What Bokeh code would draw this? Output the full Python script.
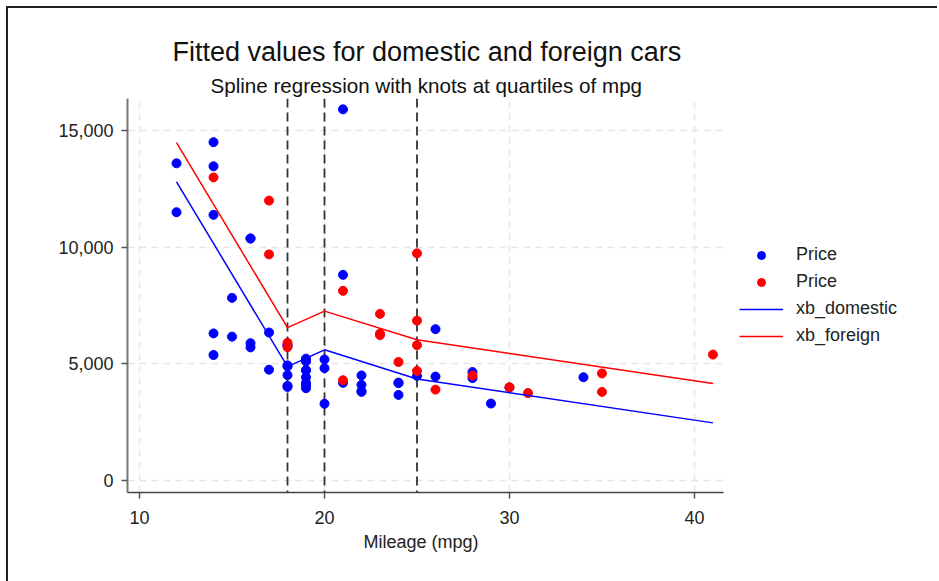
from bokeh.plotting import figure
from bokeh.models import (Span, Title, Legend, LegendItem, NumeralTickFormatter,
                          FixedTicker, Range1d, ColumnDataSource, BoxAnnotation)
from bokeh.embed import file_html
from bokeh.resources import INLINE

# ---- data (auto dataset) ----
mpg_domestic = [22, 17, 22, 20, 15, 18, 26, 20, 16, 19, 14, 14, 21, 29, 16, 22, 19, 24, 19, 30,
                18, 16, 17, 28, 21, 12, 12, 14, 22, 14, 15, 18, 14, 20, 21, 19, 19, 18, 19, 24,
                16, 28, 34, 25, 26, 18, 18, 18, 19, 19, 19, 24]
price_domestic = [4099, 4749, 3799, 4816, 7827, 5788, 4453, 5189, 10372, 4082, 11385, 14500, 15906,
                  3299, 5705, 4504, 5104, 3667, 3955, 3984, 4010, 5886, 6342, 4389, 4187, 11497,
                  13594, 13466, 3829, 5379, 6165, 4516, 6303, 3291, 8814, 5172, 4733, 4890, 4181,
                  4195, 10371, 4647, 4425, 4482, 6486, 4060, 5798, 4934, 5222, 4723, 4424, 4172]
mpg_foreign = [17, 23, 25, 23, 35, 24, 21, 21, 25, 28, 30, 14, 26, 35, 18, 31, 18, 23, 41, 25, 25, 17]
price_foreign = [9690, 6295, 9735, 6229, 4589, 5079, 8129, 4296, 5799, 4499, 3995, 12990, 3895,
                 3798, 5899, 3748, 5719, 7140, 5397, 4697, 6850, 11995]

fit_mpg = [12, 18, 20, 25, 41]
xb_domestic = [12800, 4880, 5600, 4350, 2470]
xb_foreign = [14480, 6550, 7260, 6030, 4160]

knots = [18, 20, 25]
x_ticks = [10, 20, 30, 40]
y_ticks = [0, 5000, 10000, 15000]
legend_labels = ["Price", "Price", "xb_domestic", "xb_foreign"]

FONT = "Liberation Sans"
X_START, X_AXIS_END, X_FRAME_END = 9.35, 41.57, 51.95

p = figure(frame_width=788, frame_height=394,
           x_range=Range1d(X_START, X_FRAME_END), y_range=Range1d(-514, 16371),
           output_backend="svg", toolbar_location=None, title=None,
           min_border_left=119, min_border_top=90, min_border_right=22,
           min_border_bottom=89)
p.styles = {"border-top": "2px solid #222", "border-left": "2px solid #222",
            "margin-top": "6px", "margin-left": "6px"}
p.outline_line_color = None
p.background_fill_color = "white"
p.border_fill_color = "white"

# titles (left-aligned with offsets so they centre over the plotted region)
sub = Title(text="Spline regression with knots at quartiles of mpg", align="left", offset=83,
            text_font=FONT, text_font_size="20.6px", text_font_style="normal",
            text_color="#111111", standoff=4)
main = Title(text="Fitted values for domestic and foreign cars", align="left", offset=45,
             text_font=FONT, text_font_size="27px", text_font_style="normal",
             text_color="#111111", standoff=6)
p.add_layout(sub, "above")
p.add_layout(main, "above")

# axes
p.xaxis.ticker = FixedTicker(ticks=x_ticks)
p.yaxis.ticker = FixedTicker(ticks=y_ticks)
p.xaxis.bounds = (X_START, X_AXIS_END)
p.yaxis.formatter = NumeralTickFormatter(format="0,0")
for ax in (p.xaxis, p.yaxis):
    ax.major_label_text_font = FONT
    ax.major_label_text_font_size = "18px"
    ax.major_label_text_color = "#222222"
    ax.major_tick_in = 0
    ax.major_tick_out = 6
    ax.minor_tick_line_color = None
    ax.major_tick_line_color = "#555555"
    ax.major_tick_line_width = 1.5
p.xaxis.axis_line_color = "#444444"
p.xaxis.axis_line_width = 1.5
p.yaxis.axis_line_color = "#777777"
p.yaxis.axis_line_width = 2
p.xaxis.major_label_standoff = 12
p.yaxis.major_label_standoff = 8

# x-axis title, centred under the plotted region
xlab = Title(text="Mileage (mpg)", align="left", offset=236,
             text_font=FONT, text_font_size="18px", text_font_style="normal",
             text_color="#222222", standoff=6)
p.add_layout(xlab, "below")

# grid
p.xgrid.ticker = FixedTicker(ticks=x_ticks)
p.ygrid.ticker = FixedTicker(ticks=y_ticks)
for g in (p.xgrid, p.ygrid):
    g.grid_line_color = "#e6e6e6"
    g.grid_line_dash = "7 5"
    g.grid_line_width = 1.5

# white cover for the legend area (keeps grid lines inside the plot region)
p.add_layout(BoxAnnotation(left=X_AXIS_END, fill_color="white", fill_alpha=1,
                           line_color=None, level="underlay"))

# knot lines
for k in knots:
    p.add_layout(Span(location=k, dimension="height", line_color="#333333",
                      line_width=1.8, line_dash="9 5", level="underlay"))

src_d = ColumnDataSource(dict(x=mpg_domestic, y=price_domestic))
src_f = ColumnDataSource(dict(x=mpg_foreign, y=price_foreign))
src_fit = ColumnDataSource(dict(x=fit_mpg, d=xb_domestic, f=xb_foreign))

r_d = p.scatter("x", "y", source=src_d, size=9, color="#0000ff", line_color="#0000ff")
r_f = p.scatter("x", "y", source=src_f, size=9, color="#ff0000", line_color="#ff0000")
r_ld = p.line("x", "d", source=src_fit, line_color="#0000ff", line_width=1.5)
r_lf = p.line("x", "f", source=src_fit, line_color="#ff0000", line_width=1.5)

legend = Legend(items=[LegendItem(label=lab, renderers=[r])
                       for lab, r in zip(legend_labels, [r_d, r_f, r_ld, r_lf])],
                location=(612, 146), border_line_color=None, background_fill_alpha=0,
                label_text_font=FONT, label_text_font_size="18px",
                label_text_color="#222222",
                glyph_width=44, glyph_height=20, label_height=20, spacing=6,
                label_standoff=13, padding=8, margin=0)
p.add_layout(legend)

open("out.html", "w").write(file_html(p, INLINE))
